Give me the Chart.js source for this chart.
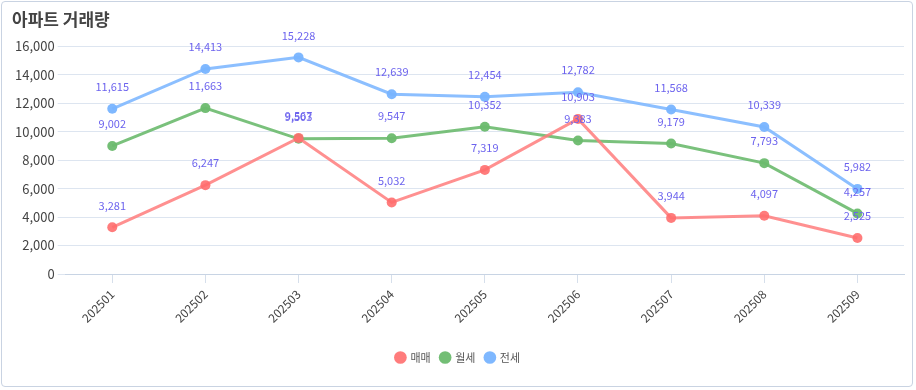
<!DOCTYPE html>
<html>
<head>
    <title>아파트 거래량</title>
    <script src="https://cdn.jsdelivr.net/npm/chart.js"></script>
    <style>
        body {
            margin: 0;
            padding: 0;
            background: #fff;
            font-family: 'Noto Sans CJK KR', 'Noto Sans', sans-serif;
        }
        .card {
            position: absolute;
            left: 1px;
            top: 1px;
            width: 912px;
            height: 386px;
            border: 1px solid #c9d3e2;
            border-radius: 4px;
            box-sizing: border-box;
        }
        .chart-box {
            position: absolute;
            left: 0;
            top: 0;
            width: 916px;
            height: 390px;
        }
    </style>
</head>
<body>
    <div class="card"></div>
    <div class="chart-box">
        <canvas id="tradeChart"></canvas>
    </div>

    <script>
        const months = ['202501', '202502', '202503', '202504', '202505', '202506', '202507', '202508', '202509'];
        const sales = [3281, 6247, 9567, 5032, 7319, 10903, 3944, 4097, 2525];      // 매매
        const monthlyRent = [9002, 11663, 9503, 9547, 10352, 9383, 9179, 7793, 4257]; // 월세
        const jeonse = [11615, 14413, 15228, 12639, 12454, 12782, 11568, 10339, 5982]; // 전세

        // simple value labels above each point
        const pointLabels = {
            id: 'pointLabels',
            afterDatasetsDraw(chart) {
                const ctx = chart.ctx;
                ctx.save();
                ctx.font = '11px "Noto Sans CJK KR", "Noto Sans", sans-serif';
                ctx.fillStyle = '#6c63ee';
                ctx.textAlign = 'center';
                ctx.textBaseline = 'middle';
                chart.data.datasets.forEach((ds, i) => {
                    chart.getDatasetMeta(i).data.forEach((pt, j) => {
                        ctx.fillText(ds.data[j].toLocaleString('en-US'), pt.x, pt.y - 22);
                    });
                });
                ctx.restore();
            }
        };

        const ctx = document.getElementById('tradeChart').getContext('2d');
        new Chart(ctx, {
            type: 'line',
            data: {
                labels: months,
                datasets: [
                    {
                        label: '매매',
                        data: sales,
                        borderColor: 'rgba(255, 125, 125, 0.85)',
                        backgroundColor: 'rgba(255, 110, 110, 0.9)',
                        borderWidth: 3,
                        pointRadius: 5,
                        pointBorderWidth: 0
                    },
                    {
                        label: '월세',
                        data: monthlyRent,
                        borderColor: 'rgba(108, 186, 110, 0.9)',
                        backgroundColor: 'rgba(108, 186, 110, 0.95)',
                        borderWidth: 3,
                        pointRadius: 5,
                        pointBorderWidth: 0
                    },
                    {
                        label: '전세',
                        data: jeonse,
                        borderColor: 'rgba(128, 184, 255, 0.9)',
                        backgroundColor: 'rgba(120, 180, 255, 0.95)',
                        borderWidth: 3,
                        pointRadius: 5,
                        pointBorderWidth: 0
                    }
                ]
            },
            options: {
                responsive: true,
                maintainAspectRatio: false,
                animation: false,
                layout: { padding: { left: 12, right: 12, top: 5, bottom: 17 } },
                scales: {
                    x: {
                        offset: true,
                        grid: { offset: false, drawOnChartArea: false, drawTicks: true, tickLength: 9, color: '#d6dfeb' },
                        border: { color: '#c8d4e4' },
                        ticks: {
                            maxRotation: 45,
                            minRotation: 45,
                            padding: 4,
                            color: '#444',
                            font: { family: '"Noto Sans CJK KR", "Noto Sans", sans-serif', size: 12 }
                        },
                        afterFit: axis => { axis.height = 68; }
                    },
                    y: {
                        beginAtZero: true,
                        max: 16000,
                        grid: { color: '#dde5f0', tickLength: 8 },
                        border: { display: false },
                        ticks: {
                            stepSize: 2000,
                            color: '#444',
                            font: { family: '"Noto Sans CJK KR", "Noto Sans", sans-serif', size: 13 },
                            callback: v => v.toLocaleString('en-US')
                        }
                    }
                },
                plugins: {
                    title: {
                        display: true,
                        text: '아파트 거래량',
                        align: 'start',
                        color: '#444',
                        font: { family: '"Noto Sans CJK KR", sans-serif', size: 17, weight: 'bold' },
                        padding: { top: 4, bottom: 17 }
                    },
                    legend: {
                        position: 'bottom',
                        labels: {
                            usePointStyle: true,
                            pointStyle: 'circle',
                            boxWidth: 9,
                            boxHeight: 9,
                            padding: 10,
                            color: '#555',
                            font: { family: '"Noto Sans CJK KR", sans-serif', size: 11 }
                        }
                    },
                    tooltip: { enabled: false }
                }
            },
            plugins: [pointLabels]
        });
    </script>
</body>
</html>
